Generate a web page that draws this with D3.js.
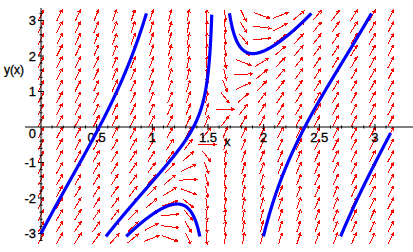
<!DOCTYPE html>
<html>
<head>
<meta charset="utf-8">
<script src="https://cdn.jsdelivr.net/npm/d3@7"></script>
<style>
  body { margin: 0; background: #fff; }
  svg { display: block; }
  text { font-family: "Liberation Sans", Arial, sans-serif; fill: #000; }
</style>
</head>
<body>
<svg id="chart" width="413" height="252"></svg>
<script>
// y' = forcing + y * tan(x), direction field over x = 0..Pi, y = -Pi..Pi
const forcing = 6;
const gridCols = 20;
const gridRows = 20;

// initial points of the solution curves
const curveStarts = [
  [0, -3],
  [1.37, 0],
  [1.23, -2.17],
  [1.92, 2.07],
  [2.37, 0],
  [2.9, -1.65]
];

const xTicks = [0.5, 1, 1.5, 2, 2.5, 3];
const yTicks = [-3, -2, -1, 1, 2, 3];

const svg = d3.select('#chart');

const x = d3.scaleLinear().domain([0, Math.PI]).range([41, 390.7]);
const y = d3.scaleLinear().domain([-Math.PI, Math.PI]).range([238.5, 15.5]);

const slope = (px, py) => forcing + py * Math.tan(px);

// ---- direction field ----
const gridX = d3.range(gridCols).map(i => i * Math.PI / (gridCols - 1));
const gridY = d3.range(gridRows).map(j => -Math.PI + j * 2 * Math.PI / (gridRows - 1));
const W = x.range()[1] - x.range()[0];
const H = y.range()[0] - y.range()[1];
const arrowLen = 0.0515;

const arrows = [];
gridX.forEach(gx => gridY.forEach(gy => {
  const f = slope(gx, gy);
  let nx = 1 / Math.PI, ny = f / (2 * Math.PI);
  const n = Math.hypot(nx, ny);
  nx /= n; ny /= n;
  const dx = nx * arrowLen * W, dy = -ny * arrowLen * H;
  const cx = x(gx), cy = y(gy);
  arrows.push({x1: cx - dx / 2, y1: cy - dy / 2, x2: cx + dx / 2, y2: cy + dy / 2});
}));

const field = svg.append('g')
  .attr('stroke', '#ff0000')
  .attr('stroke-width', 1)
  .attr('fill', 'none')
  .attr('shape-rendering', 'crispEdges');

field.selectAll('path')
  .data(arrows)
  .join('path')
  .attr('d', a => {
    const ang = Math.atan2(a.y2 - a.y1, a.x2 - a.x1);
    const h = 3.2, s = 0.5;
    const b1x = a.x2 - h * Math.cos(ang - s), b1y = a.y2 - h * Math.sin(ang - s);
    const b2x = a.x2 - h * Math.cos(ang + s), b2y = a.y2 - h * Math.sin(ang + s);
    return `M${a.x1},${a.y1}L${a.x2},${a.y2}M${b1x},${b1y}L${a.x2},${a.y2}L${b2x},${b2y}`;
  });

// ---- axes ----
const xAxisG = svg.append('g').attr('transform', `translate(0,${y(0)})`);
xAxisG.append('line')
  .attr('x1', 25).attr('x2', 413)
  .attr('stroke', '#000');
xAxisG.selectAll('.tk')
  .data(d3.range(1, 32).map(i => i / 10))
  .join('line')
  .attr('x1', d => x(d)).attr('x2', d => x(d))
  .attr('y1', d => (Math.round(d * 10) % 5 === 0) ? -3 : -1.5)
  .attr('y2', d => (Math.round(d * 10) % 5 === 0) ? 3 : 1.5)
  .attr('stroke', '#000');
xAxisG.selectAll('.lab')
  .data(xTicks)
  .join('text')
  .attr('x', d => x(d))
  .attr('y', 15)
  .attr('text-anchor', 'middle')
  .attr('font-size', 13)
  .attr('stroke', '#000').attr('stroke-width', 0.3)
  .text(d => d);

const yAxisG = svg.append('g').attr('transform', `translate(${x(0)},0)`);
yAxisG.append('line')
  .attr('y1', 8).attr('y2', 241)
  .attr('stroke', '#000');
yAxisG.selectAll('.tk')
  .data(d3.range(-16, 17).filter(i => i !== 0).map(i => i / 5))
  .join('line')
  .attr('y1', d => y(d)).attr('y2', d => y(d))
  .attr('x1', d => Number.isInteger(d) ? -3 : -1.5)
  .attr('x2', d => Number.isInteger(d) ? 3 : 1.5)
  .attr('stroke', '#000');
yAxisG.selectAll('.lab')
  .data(yTicks)
  .join('text')
  .attr('x', -5)
  .attr('y', d => y(d))
  .attr('dy', '0.35em')
  .attr('text-anchor', 'end')
  .attr('font-size', 13)
  .attr('stroke', '#000').attr('stroke-width', 0.3)
  .text(d => d < 0 ? '-' + (-d) : d);
yAxisG.append('text')
  .attr('x', -5).attr('y', y(0) + 6)
  .attr('dy', '0.35em')
  .attr('text-anchor', 'end')
  .attr('font-size', 13)
  .attr('stroke', '#000').attr('stroke-width', 0.3)
  .text('0');

svg.append('text').attr('x', 4).attr('y', 74).attr('font-size', 12)
  .attr('stroke', '#000').attr('stroke-width', 0.3).text('y(x)');
svg.append('text').attr('x', 224).attr('y', 146).attr('font-size', 13)
  .attr('stroke', '#000').attr('stroke-width', 0.3).text('x');

// ---- solution curves (RK4 from each start, both directions) ----
const yTop = 3.2, yBottom = -3.08;
const integrate = (x0, y0, h) => {
  const pts = [];
  let cx = x0, cy = y0;
  for (let k = 0; k < 5000; k++) {
    pts.push([cx, cy]);
    if (cy > yTop || cy < yBottom) break;
    const nxp = cx + h;
    if (nxp < 0 || nxp > Math.PI) break;
    if (Math.abs(nxp - Math.PI / 2) < 0.004) break;
    const k1 = slope(cx, cy);
    const k2 = slope(cx + h / 2, cy + h / 2 * k1);
    const k3 = slope(cx + h / 2, cy + h / 2 * k2);
    const k4 = slope(cx + h, cy + h * k3);
    cy += h / 6 * (k1 + 2 * k2 + 2 * k3 + k4);
    cx = nxp;
  }
  return pts;
};

const curves = curveStarts.map(([x0, y0]) => {
  const back = integrate(x0, y0, -0.001).reverse();
  const fwd = integrate(x0, y0, 0.001).slice(1);
  return back.concat(fwd).filter(p => p[1] <= yTop + 0.05 && p[1] >= yBottom - 0.05);
});

const line = d3.line().x(d => x(d[0])).y(d => y(d[1]));

svg.append('g')
  .selectAll('path')
  .data(curves)
  .join('path')
  .attr('d', line)
  .attr('fill', 'none')
  .attr('stroke', '#0000ff')
  .attr('stroke-width', 3.2);
</script>
</body>
</html>
